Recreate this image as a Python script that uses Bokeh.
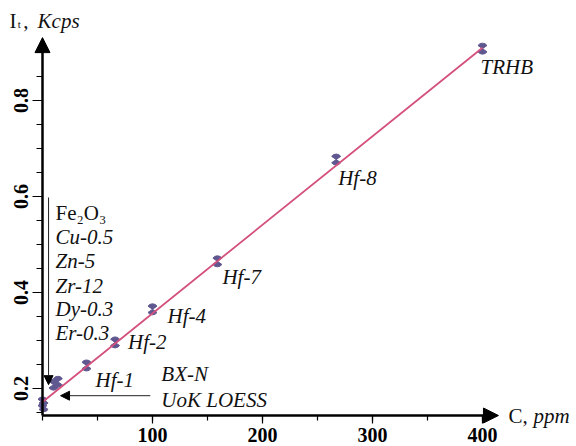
from bokeh.plotting import figure
from bokeh.models import FixedTicker, Label, Arrow, NormalHead, ColumnDataSource
from bokeh.embed import file_html
from bokeh.resources import INLINE

# ---- data ----
sample_C = [0, 1, 10, 14, 40, 66, 100, 159, 267, 400]
sample_I = [0.171, 0.163, 0.208, 0.214, 0.248, 0.296, 0.365, 0.465, 0.677, 0.908]

fit_C = [0, 400]
fit_I = [0.172, 0.910]

point_names = ["Hf-1", "Hf-2", "Hf-4", "Hf-7", "Hf-8", "TRHB"]
point_C = [40, 66, 100, 159, 267, 400]
point_I = [0.248, 0.296, 0.365, 0.465, 0.677, 0.908]

group_names = ["Fe₂O₃", "Cu-0.5", "Zn-5", "Zr-12", "Dy-0.3", "Er-0.3"]
ref_names = ["BX-N", "UoK LOESS"]

x_ticks = [100, 200, 300, 400]
x_minor = [0, 50, 100, 150, 200, 250, 300, 350, 400]
y_ticks = [0.2, 0.4, 0.6, 0.8]
y_minor = [0.15, 0.2, 0.25, 0.3, 0.35, 0.4, 0.45, 0.5, 0.55, 0.6, 0.65, 0.7, 0.75, 0.8, 0.85, 0.9]

# ---- layout / style ----
# label offsets in px (dx right, dy down) relative to the point
label_dx = [9, 13, 15, 5, 2, -2]
label_dy = [22, 7, 14, 23, 25, 25]
group_x = 11.8
group_y = [0.552, 0.502, 0.452, 0.40, 0.352, 0.302]
ref_x = 108
ref_y = [0.2146, 0.1625]
X_AXIS_AT = 0.14375
SHIFT = 7  # px upward correction for text baseline

SERIF = "Liberation Serif"
LINE_COLOR = "#d4507c"
MARK_COLOR = "#5f5890"
TXT = "#111111"

p = figure(width=576, height=446, x_range=(-38.18, 485.45), y_range=(0.07917, 1.00833),
           output_backend="svg", toolbar_location=None,
           min_border_left=0, min_border_right=0, min_border_top=0, min_border_bottom=0)
p.outline_line_color = None
p.grid.visible = False
p.background_fill_color = "white"
p.border_fill_color = "white"

for ax in (p.xaxis, p.yaxis):
    ax.axis_line_width = 2.5
    ax.axis_line_color = "black"
    ax.major_tick_line_color = "black"
    ax.minor_tick_line_color = "black"
    ax.major_tick_line_width = 1.2
    ax.minor_tick_line_width = 1.2
    ax.major_tick_in = 0
    ax.minor_tick_in = 0
    ax.minor_tick_out = 5
    ax.major_label_text_font = SERIF
    ax.major_label_text_font_style = "bold"
    ax.major_label_text_font_size = "20px"
    ax.major_label_text_color = "black"

p.xaxis.major_tick_out = 8
p.yaxis.major_tick_out = 10
p.yaxis.minor_tick_out = 6
p.xaxis.ticker = FixedTicker(ticks=x_ticks, minor_ticks=x_minor)
p.yaxis.ticker = FixedTicker(ticks=y_ticks, minor_ticks=y_minor)
p.xaxis.fixed_location = X_AXIS_AT
p.yaxis.fixed_location = 0
p.xaxis.bounds = (0, 405)
p.yaxis.bounds = (X_AXIS_AT, 0.915)
p.yaxis.major_label_orientation = "vertical"
p.xaxis.major_label_standoff = 4
p.yaxis.major_label_standoff = 4

# axis arrow heads
p.add_layout(Arrow(x_start=0, y_start=0.90, x_end=0, y_end=0.931, line_alpha=0,
                   end=NormalHead(size=15, fill_color="black", line_color="black", line_width=1)))
p.add_layout(Arrow(x_start=400, y_start=X_AXIS_AT, x_end=414.5, y_end=X_AXIS_AT, line_alpha=0,
                   end=NormalHead(size=15, fill_color="black", line_color="black", line_width=1)))

# hourglass markers
src = ColumnDataSource(dict(C=sample_C, I=sample_I))
for a0, a1 in ((35, 145), (215, 325)):
    p.wedge(x="C", y="I", radius=5.5, radius_units="screen", start_angle=a0, end_angle=a1,
            start_angle_units="deg", end_angle_units="deg",
            fill_color=MARK_COLOR, line_color=MARK_COLOR, line_width=1, source=src)

# fit line
p.line(fit_C, fit_I, line_color=LINE_COLOR, line_width=1.8)

# point labels
for name, c, i, dx, dy in zip(point_names, point_C, point_I, label_dx, label_dy):
    p.add_layout(Label(x=c, y=i, x_offset=dx, y_offset=-dy + SHIFT, text=name,
                       text_font=SERIF, text_font_style="italic", text_font_size="21px",
                       text_align="left", text_baseline="alphabetic", text_color=TXT))

# group list
for k, (name, gy) in enumerate(zip(group_names, group_y)):
    p.add_layout(Label(x=group_x, y=gy, y_offset=SHIFT, text=name, text_font=SERIF,
                       text_font_style="normal" if k == 0 else "italic",
                       text_font_size="21px", text_align="left", text_baseline="alphabetic",
                       text_color=TXT))

for name, ry in zip(ref_names, ref_y):
    p.add_layout(Label(x=ref_x, y=ry, y_offset=SHIFT, text=name, text_font=SERIF,
                       text_font_style="italic",
                       text_font_size="21px", text_align="left", text_baseline="alphabetic",
                       text_color=TXT))

# pointer arrows
p.add_layout(Arrow(x_start=5.5, y_start=0.598, x_end=5.5, y_end=0.208, line_width=1,
                   line_color="#222222",
                   end=NormalHead(size=9, fill_color="black", line_color="black", line_width=1)))
p.add_layout(Arrow(x_start=98, y_start=0.185, x_end=16.4, y_end=0.185, line_width=1,
                   line_color="#222222",
                   end=NormalHead(size=9, fill_color="black", line_color="black", line_width=1)))

# axis titles
def lab(x, y, t, size="21px", style="normal"):
    p.add_layout(Label(x=x, y=y, y_offset=SHIFT, text=t, text_font=SERIF, text_font_style=style,
                       text_font_size=size, text_align="left", text_baseline="alphabetic",
                       text_color=TXT))

lab(-30.0, 0.95, "I")
lab(-22.5, 0.944, "t", size="11px")
lab(-17.5, 0.95, ",")
lab(-4.5, 0.95, "Kcps", style="italic")
lab(423.6, 0.129, "C,")
lab(446.4, 0.129, "ppm", style="italic")

open("out.html", "w").write(file_html(p, INLINE))
